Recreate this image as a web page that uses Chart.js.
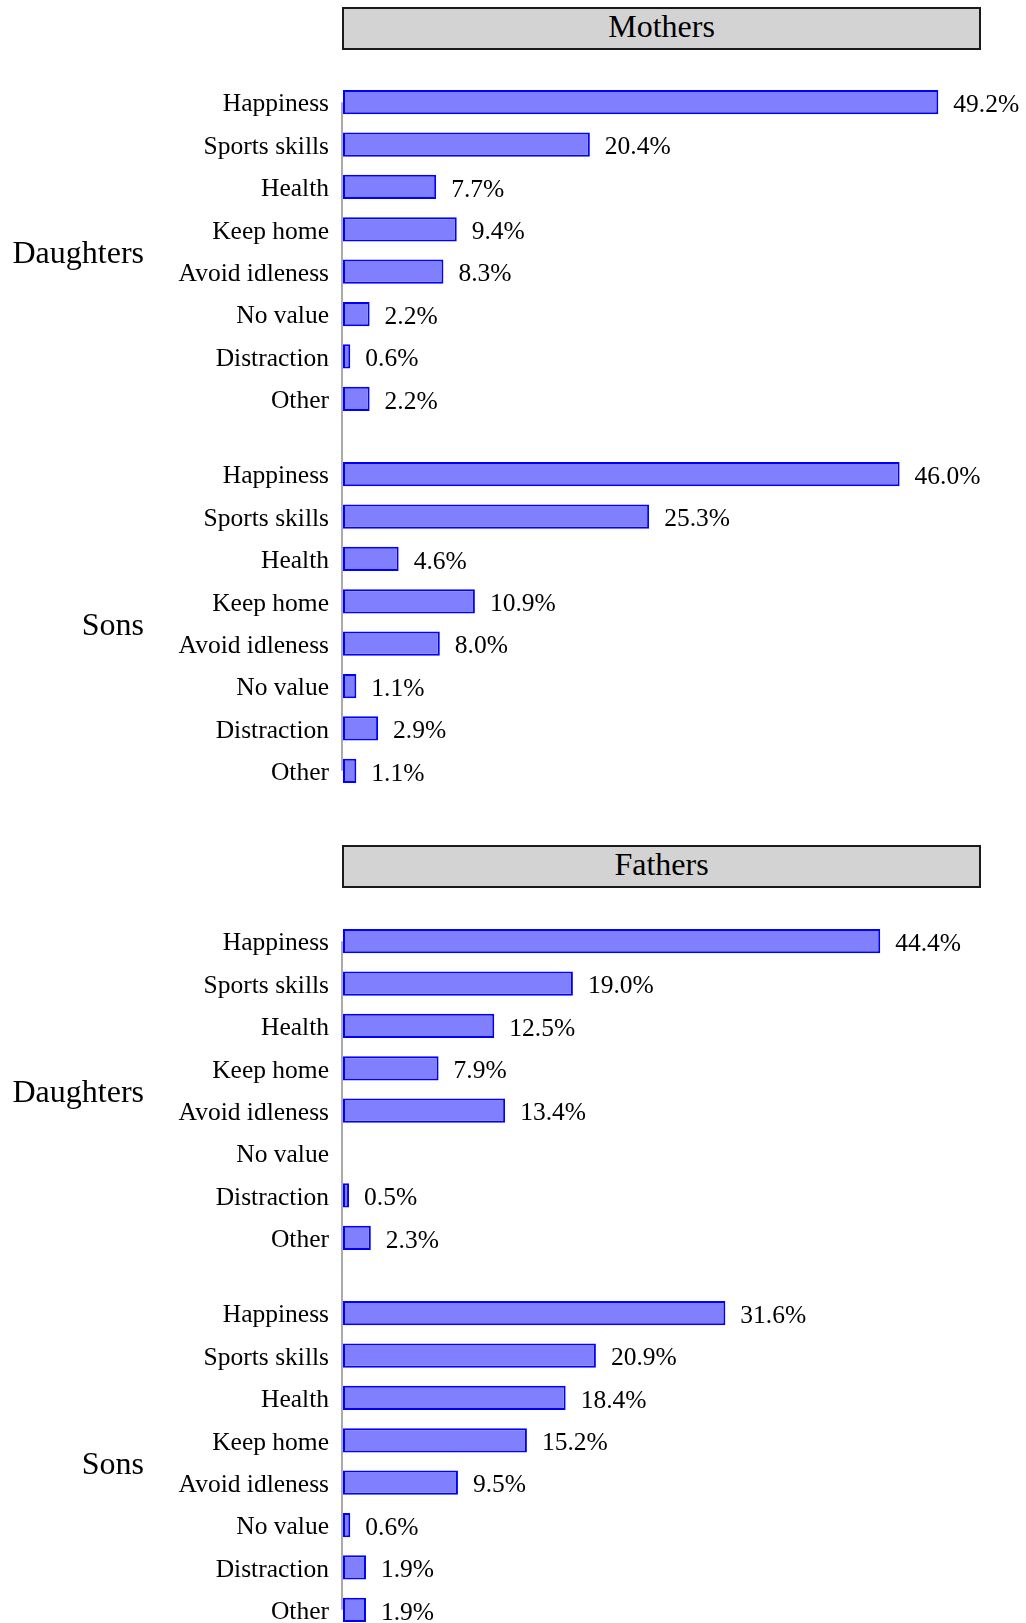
<!DOCTYPE html>
<html lang="en">
<head>
    <meta charset="UTF-8">
    <title>Value of sport for children</title>
    <script src="https://cdn.jsdelivr.net/npm/chart.js"></script>
    <style>
        html, body {
            margin: 0;
            padding: 0;
            background: #ffffff;
        }
        body {
            width: 1026px;
            height: 1623px;
            overflow: hidden;
            position: relative;
            font-family: "Liberation Serif", "Times New Roman", serif;
        }
        .panel-title {
            position: absolute;
            left: 342px;
            width: 639px;
            height: 43px;
            box-sizing: border-box;
            background: #d3d3d3;
            border: 2px solid #1a1a1a;
            font-size: 32px;
            line-height: 34px;
            text-align: center;
            color: #000;
        }
        .group-box {
            position: absolute;
            left: 0;
            width: 1026px;
        }
    </style>
</head>
<body>
    <div id="root"></div>

    <script>
        // data
        const categories = ['Happiness', 'Sports skills', 'Health', 'Keep home', 'Avoid idleness', 'No value', 'Distraction', 'Other'];
        const panelTitles = ['Mothers', 'Fathers'];
        const groupNames = ['Daughters', 'Sons'];

        const mothersDaughters = [49.2, 20.4, 7.7, 9.4, 8.3, 2.2, 0.6, 2.2];
        const mothersSons = [46.0, 25.3, 4.6, 10.9, 8.0, 1.1, 2.9, 1.1];
        const fathersDaughters = [44.4, 19.0, 12.5, 7.9, 13.4, null, 0.5, 2.3];
        const fathersSons = [31.6, 20.9, 18.4, 15.2, 9.5, 0.6, 1.9, 1.9];

        const panelData = [
            [mothersDaughters, mothersSons],
            [fathersDaughters, fathersSons]
        ];

        const FONT = '"Liberation Serif", "Times New Roman", serif';
        const AXIS_X = 343;     // left edge of the bars
        const PANEL_STEP = 839; // vertical offset between Mothers and Fathers
        const AREA_TOP = 81;    // first row band inside a panel
        const AREA_H = 339;     // 8 rows
        const GAP = 33;         // space between Daughters and Sons rows

        // axis line, value labels and group name
        const groupDecor = {
            id: 'groupDecor',
            beforeDatasetsDraw(chart, args, opts) {
                const { ctx, chartArea } = chart;
                const y = chart.scales.y;
                const top = opts.first ? y.getPixelForValue(0) : 0;
                const bottom = opts.first ? chart.height : y.getPixelForValue(categories.length - 1);
                ctx.save();
                ctx.strokeStyle = '#aaaaaa';
                ctx.lineWidth = 2;
                ctx.beginPath();
                ctx.moveTo(chartArea.left - 1, top);
                ctx.lineTo(chartArea.left - 1, bottom);
                ctx.stroke();
                ctx.restore();
            },
            afterDatasetsDraw(chart, args, opts) {
                const { ctx, chartArea } = chart;
                const values = chart.data.datasets[0].data;
                ctx.save();
                ctx.fillStyle = '#000';
                ctx.font = '25.5px ' + FONT;
                ctx.textAlign = 'left';
                ctx.textBaseline = 'middle';
                chart.getDatasetMeta(0).data.forEach((bar, i) => {
                    if (values[i] == null) return;
                    ctx.fillText(values[i].toFixed(1) + '%', bar.x + 15, bar.y + 3);
                });
                ctx.font = '32px ' + FONT;
                ctx.textAlign = 'right';
                ctx.fillText(opts.group, 144, (chartArea.top + chartArea.bottom) / 2 + 4);
                ctx.restore();
            }
        };

        const root = document.getElementById('root');

        function makeGroupChart(top, values, groupName, first) {
            const box = document.createElement('div');
            box.className = 'group-box';
            box.style.top = top + 'px';
            box.style.height = (AREA_H + (first ? GAP : 0)) + 'px';
            const canvas = document.createElement('canvas');
            box.appendChild(canvas);
            root.appendChild(box);

            new Chart(canvas.getContext('2d'), {
                type: 'bar',
                data: {
                    labels: categories,
                    datasets: [{
                        data: values,
                        backgroundColor: '#8080ff',
                        borderColor: '#0000ff',
                        borderWidth: 2,
                        borderSkipped: false,
                        barPercentage: 0.57,
                        categoryPercentage: 1.0
                    }]
                },
                options: {
                    indexAxis: 'y',
                    responsive: true,
                    maintainAspectRatio: false,
                    animation: false,
                    layout: { padding: { top: 0, bottom: first ? GAP : 0, left: 0, right: 78 } },
                    scales: {
                        x: { min: 0, max: 50, display: false },
                        y: {
                            type: 'category',
                            offset: true,
                            grid: { display: false, drawTicks: false },
                            border: { display: false },
                            ticks: {
                                autoSkip: false,
                                padding: 14,
                                labelOffset: 2.5,
                                color: '#000',
                                font: { family: FONT, size: 25.5 }
                            },
                            afterFit: scale => {
                                scale.width = AXIS_X;
                                // rows fill the whole box, labels may overhang
                                scale.paddingTop = 0;
                                scale.paddingBottom = 0;
                            }
                        }
                    },
                    plugins: {
                        legend: { display: false },
                        tooltip: { enabled: false },
                        groupDecor: { group: groupName, first: first }
                    }
                },
                plugins: [groupDecor]
            });
        }

        panelTitles.forEach((title, p) => {
            const base = p * PANEL_STEP;
            const head = document.createElement('div');
            head.className = 'panel-title';
            head.style.top = (base + 7 - p) + 'px';
            head.textContent = title;
            root.appendChild(head);

            makeGroupChart(base + AREA_TOP, panelData[p][0], groupNames[0], true);
            makeGroupChart(base + AREA_TOP + AREA_H + GAP, panelData[p][1], groupNames[1], false);
        });
    </script>
</body>
</html>
